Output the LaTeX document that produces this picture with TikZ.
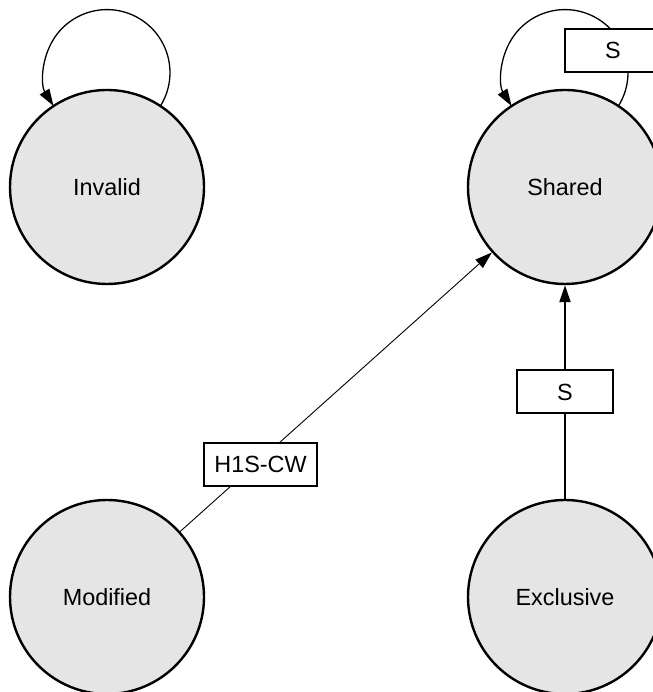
\documentclass[tikz,border=0pt]{standalone}
\usepackage{fontspec}
\setmainfont{Liberation Sans}
\usetikzlibrary{arrows.meta}
\definecolor{stfill}{RGB}{229,229,229}
\tikzset{
  state/.style={circle, draw=black, fill=stfill, line width=2.4pt, minimum size=194pt, inner sep=0pt, font=\fontsize{23.4}{27}\selectfont},
  lbl/.style={draw=black, fill=white, line width=2pt, inner sep=0pt, minimum height=43pt, font=\fontsize{23.4}{27}\selectfont},
  tip/.style={-{Triangle[length=17pt,width=11pt]}},
  loopline/.style={tip, line width=1.3pt},
}
\begin{document}
\begin{tikzpicture}[x=1pt,y=1pt]
\useasboundingbox (0,0) rectangle (652,692);
\node[state] (I) at (107,505) {Invalid};
\node[state] (S) at (565,505) {Shared};
\node[state] (M) at (107,95) {Modified};
\node[state] (E) at (565,95) {Exclusive};
% self loops
\draw[loopline] (I.center) ++(53.4,81) coordinate (ia) arc[start angle=-32, end angle=212, radius=63];
\draw[loopline] (S.center) ++(53.4,81) coordinate (sa) arc[start angle=-32, end angle=212, radius=63];
\node[lbl, minimum width=96pt] (ls) at (613,641.5) {S};
% Modified -> Shared
\draw[tip, line width=0.9pt] (M) -- (S);
\node[lbl, minimum width=113pt] (lm) at (260.5,227.5) {H1S-CW};
% Exclusive -> Shared
\draw[tip, line width=2pt] (E) -- node[lbl, minimum width=96pt, midway] (le) {S} (S);
\end{tikzpicture}
\end{document}
